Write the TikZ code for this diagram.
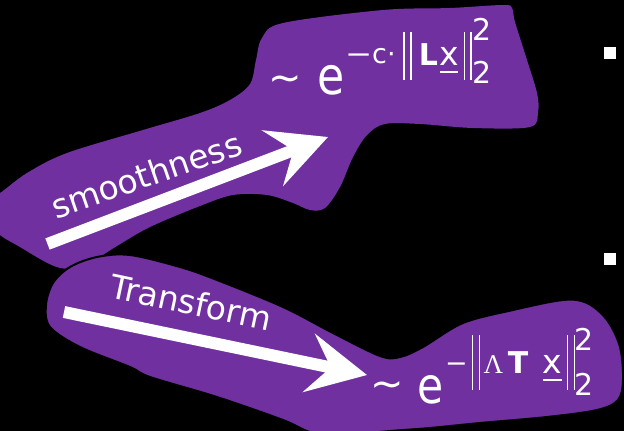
\documentclass[tikz,border=0pt]{standalone}
\usepackage{fontspec}
\usepackage{graphicx}
\setmainfont{DejaVu Sans}
\newfontfamily\lamfont{Liberation Serif}
\usetikzlibrary{arrows.meta}
\definecolor{blobpurple}{RGB}{112,48,160}
\begin{document}
\begin{tikzpicture}[x=1pt,y=-1pt,
  blob/.style={fill=blobpurple},
  bigarrow/.style={white, line width=12pt, -{Stealth[length=59pt,width=59pt,inset=22pt]}},
  wtext/.style={text=white, inner sep=0pt, outer sep=0pt},
  bar/.style={white, line width=1.4pt},
  bullet/.style={fill=white, draw=none, minimum size=12pt, inner sep=0pt}]
\clip (0,0) rectangle (624,431);
\fill[black] (0,0) rectangle (624,431);
% upper blob
\fill[blob] plot[smooth cycle, tension=0.55] coordinates {
 (-15,200) (0,193) (27,173) (67,153) (143,130) (200,113) (230,100) (250,84)
 (256,60) (262,38) (283,23) (383,10) (450,8) (503,5) (512,8) (515,22)
 (527,60) (537,93) (538,112) (530,127) (473,128) (420,124) (385,124)
 (367,135) (353,157) (340,187) (325,208) (310,210) (293,203) (267,195)
 (233,195) (200,206) (150,227) (117,246) (90,262) (60,268) (20,247) (-5,230)};
\coordinate (sa) at (47.5,244);
\coordinate (sb) at (328,137);
\draw[bigarrow] (sa) -- (sb);
\node[wtext, font=\fontsize{33}{33}\selectfont, rotate=19, anchor=base west] (smooth) at (56,219) {smoothness};
% upper formula
\node[wtext, font=\fontsize{40}{40}\selectfont] (tildeA) at (285,84) {\char"7E};
\node[wtext, font=\fontsize{52}{52}\selectfont] (eA) at (331.5,80) {\scalebox{0.85}[1]{e}};
\node[wtext, font=\fontsize{27}{27}\selectfont, anchor=base west] (expA) at (345,63) {\scalebox{1.2}[1]{−}c·};
\draw[bar] (404,32) -- (404,80);
\draw[bar] (410.8,32) -- (410.8,80);
\node[wtext, font=\bfseries\fontsize{30}{30}\selectfont, anchor=base] (LA) at (428.5,65) {L};
\node[wtext, font=\fontsize{33}{33}\selectfont, anchor=base] (xA) at (449,65) {x};
\draw[bar] (440,72) -- (458,72);
\draw[bar] (464.2,32) -- (464.2,80);
\draw[bar] (470.8,32) -- (470.8,80);
\node[wtext, font=\fontsize{30}{30}\selectfont, anchor=base] (supA) at (482.5,40) {2};
\node[wtext, font=\fontsize{30}{30}\selectfont, anchor=base] (subA) at (482.5,83) {2};
% lower blob
\filldraw[blob, draw=black, line width=2pt] plot[smooth cycle, tension=0.55] coordinates {
 (53,283) (70,267) (97,257) (130,255) (180,267) (217,280) (283,307) (333,333)
 (380,356) (400,357) (423,347) (463,323) (513,310) (563,300) (587,303)
 (607,320) (620,347) (623,380) (618,400) (597,410) (547,417) (480,423)
 (430,428) (380,432) (345,438) (310,432) (283,420) (217,397) (150,377)
 (130,367) (80,347) (50,327) (46,305)};
\coordinate (ta) at (64,312);
\coordinate (tb) at (367,375);
\draw[bigarrow] (ta) -- (tb);
\node[wtext, font=\fontsize{33}{33}\selectfont, rotate=-12, anchor=base west] (trans) at (108,297) {Transform};
% lower formula
\node[wtext, font=\fontsize{40}{40}\selectfont] (tildeB) at (387,390) {\char"7E};
\node[wtext, font=\fontsize{50}{50}\selectfont] (eB) at (430.5,390) {\scalebox{0.85}[1]{e}};
\node[wtext, font=\fontsize{27}{27}\selectfont, anchor=base west] (expB) at (445,372) {−};
\draw[bar] (472.5,335) -- (472.5,390);
\draw[bar] (479.2,335) -- (479.2,390);
\node[wtext, font=\lamfont\fontsize{27}{27}\selectfont, anchor=base] (lamB) at (493.5,373) {Λ};
\node[wtext, font=\bfseries\fontsize{30}{30}\selectfont, anchor=base] (TB) at (518,373) {T};
\node[wtext, font=\fontsize{33}{33}\selectfont, anchor=base] (xB) at (552.5,373) {x};
\draw[bar] (543,380) -- (562,380);
\draw[bar] (567.5,335) -- (567.5,390);
\draw[bar] (574.2,335) -- (574.2,390);
\node[wtext, font=\fontsize{30}{30}\selectfont, anchor=base] (supB) at (584.5,350) {2};
\node[wtext, font=\fontsize{30}{30}\selectfont, anchor=base] (subB) at (584.5,395) {2};
% bullets
\node[bullet] (b1) at (609.5,53) {};
\node[bullet] (b2) at (610,258.5) {};
\end{tikzpicture}
\end{document}
